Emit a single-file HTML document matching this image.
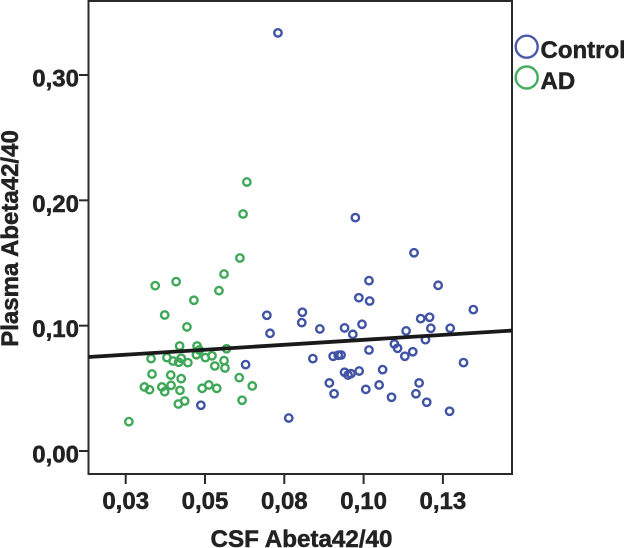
<!DOCTYPE html>
<html lang="en">
<head>
<meta charset="utf-8">
<title>Plasma vs CSF Abeta42/40</title>
<style>
html,body{margin:0;padding:0;background:#fff;}
svg{display:block;}
text{font-family:"Liberation Sans",sans-serif;font-weight:bold;fill:#222;stroke:#222;stroke-width:0.5px;}
</style>
</head>
<body>
<svg id="chart" width="624" height="548" viewBox="0 0 624 548" xmlns="http://www.w3.org/2000/svg">
  <rect x="88.5" y="1" width="423.5" height="473" fill="#fff" stroke="#2a2a2a" stroke-width="2"/>
  <g id="ticks"></g>
  <g id="control-points"></g>
  <g id="ad-points"></g>
  <line id="fit" stroke="#1a1a1a" stroke-width="3.8"/>
  <text x="301.5" y="547" text-anchor="middle" font-size="24.2">CSF Abeta42/40</text>
  <text transform="translate(18,238.5) rotate(-90)" text-anchor="middle" font-size="24">Plasma Abeta42/40</text>
  <g>
    <circle cx="526.7" cy="46.7" r="11" fill="none" stroke="#4a5aa8" stroke-width="2.4"/>
    <text x="540.5" y="58" font-size="24">Control</text>
    <circle cx="526.7" cy="77.5" r="11" fill="none" stroke="#46ad5f" stroke-width="2.4"/>
    <text x="540.5" y="89" font-size="24">AD</text>
  </g>
</svg>
<script>
const xTicks = [0.025, 0.05, 0.075, 0.10, 0.125];
const xTickLabels = ["0,03", "0,05", "0,08", "0,10", "0,13"];
const yTicks = [0, 0.10, 0.20, 0.30];
const yTickLabels = ["0,00", "0,10", "0,20", "0,30"];
const controlX = [.0730,.0974,.1159,.1017,.1235,.0985,.1019,.1346,.1180,.1208,.1212,.1273,.1134,.0862,.0940,.0995,.0966,.1195,.1097,.1107,.1017,.1155,.1130,.0840,.0904,.0920,.0929,.1315,.0940,.0951,.0960,.0986,.1060,.0892,.0907,.1007,.1049,.1088,.1175,.1165,.1199,.1271,.0695,.0705,.0807,.0805,.0628,.0487,.0764];
const controlY = [.3336,.1862,.1582,.1359,.1322,.1223,.1197,.1128,.1056,.1067,.0979,.0979,.0958,.0974,.0982,.1011,.0931,.0888,.0854,.0820,.0806,.0792,.0756,.0737,.0756,.0764,.0766,.0705,.0628,.0606,.0617,.0638,.0649,.0543,.0457,.0492,.0527,.0429,.0543,.0457,.0389,.0317,.1083,.0939,.1107,.1024,.0689,.0365,.0263];
const adX = [.0632,.0620,.0610,.0560,.0544,.0343,.0409,.0465,.0373,.0443,.0420,.0475,.0482,.0568,.0330,.0380,.0399,.0417,.0425,.0446,.0473,.0501,.0522,.0560,.0531,.0563,.0333,.0392,.0425,.0608,.0649,.0309,.0325,.0364,.0373,.0393,.0421,.0491,.0512,.0537,.0617,.0416,.0436,.0260];
const adY = [.2146,.1891,.1540,.1412,.1279,.1319,.1351,.1203,.1085,.0990,.0838,.0838,.0806,.0816,.0737,.0745,.0718,.0708,.0740,.0705,.0768,.0745,.0760,.0721,.0678,.0662,.0614,.0606,.0577,.0585,.0519,.0511,.0489,.0511,.0473,.0524,.0484,.0500,.0527,.0500,.0405,.0375,.0399,.0234];
const fitX = [0.0133, 0.1468];
const fitY = [0.0750, 0.0961];

const NS = "http://www.w3.org/2000/svg";
function xScale(v) { return 205 + (v - 0.05) * 3172; }
function yScale(v) { return 451 - v * 1253.3; }

function drawPoints(parentId, xs, ys, color, name) {
  const parent = document.getElementById(parentId);
  xs.forEach(function (x, i) {
    const c = document.createElementNS(NS, "circle");
    c.setAttribute("cx", xScale(x));
    c.setAttribute("cy", yScale(ys[i]));
    c.setAttribute("r", 3.7);
    c.setAttribute("fill", "none");
    c.setAttribute("stroke", color);
    c.setAttribute("stroke-width", 2.4);
    
    
    parent.appendChild(c);
  });
}
drawPoints("control-points", controlX, controlY, "#4053a4", "control-point");
drawPoints("ad-points", adX, adY, "#3fa858", "ad-point");

const ticks = document.getElementById("ticks");
xTicks.forEach(function (v, i) {
  const px = xScale(v);
  const l = document.createElementNS(NS, "line");
  l.setAttribute("x1", px);
  l.setAttribute("x2", px);
  l.setAttribute("y1", 474);
  l.setAttribute("y2", 484);
  l.setAttribute("stroke", "#2a2a2a");
  l.setAttribute("stroke-width", 2);
  
  
  ticks.appendChild(l);
  const t = document.createElementNS(NS, "text");
  t.setAttribute("x", px);
  t.setAttribute("y", 509);
  t.setAttribute("text-anchor", "middle");
  t.setAttribute("font-size", 24);
  
  
  t.textContent = xTickLabels[i];
  ticks.appendChild(t);
});
yTicks.forEach(function (v, i) {
  const py = yScale(v);
  const l = document.createElementNS(NS, "line");
  l.setAttribute("x1", 79);
  l.setAttribute("x2", 88.5);
  l.setAttribute("y1", py);
  l.setAttribute("y2", py);
  l.setAttribute("stroke", "#2a2a2a");
  l.setAttribute("stroke-width", 2);
  
  
  ticks.appendChild(l);
  const t = document.createElementNS(NS, "text");
  t.setAttribute("x", 79);
  t.setAttribute("y", py + 11.5);
  t.setAttribute("text-anchor", "end");
  t.setAttribute("font-size", 24);
  
  
  t.textContent = yTickLabels[i];
  ticks.appendChild(t);
});

const fit = document.getElementById("fit");
fit.setAttribute("x1", xScale(fitX[0]));
fit.setAttribute("y1", yScale(fitY[0]));
fit.setAttribute("x2", xScale(fitX[1]));
fit.setAttribute("y2", yScale(fitY[1]));
</script>
</body>
</html>
